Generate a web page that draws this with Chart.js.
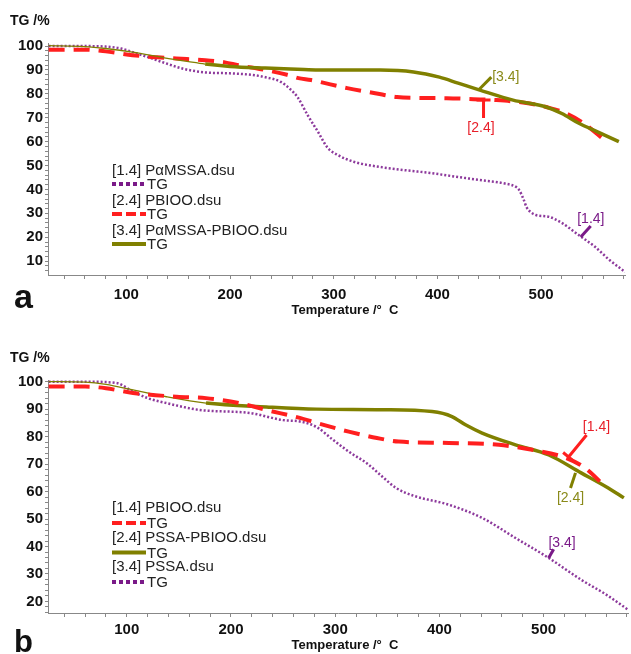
<!DOCTYPE html>
<html>
<head>
<meta charset="utf-8">
<title>TG curves</title>
<script src="https://cdn.jsdelivr.net/npm/chart.js@4.4.1/dist/chart.umd.min.js"></script>
<style>
  html, body { margin: 0; padding: 0; background: #fff; }
  #wrap { position: relative; width: 631px; height: 654px; overflow: hidden; }
  canvas { position: absolute; left: 0; }
</style>
</head>
<body>
<div id="wrap">
  <canvas id="chartA" width="631" height="327" style="top:0"></canvas>
  <canvas id="chartB" width="631" height="327" style="top:327px"></canvas>
</div>
<script>
// ===============================
// DATA  (temperature in C, TG in %)
// ===============================

// panel a : PαMSSA
const tempA_PaMSSA = [25, 40, 60, 80, 95, 106, 120, 138, 155, 176, 200, 220, 234, 249, 258, 265, 275, 285, 294, 304, 320, 345, 370, 393, 420, 440, 465, 476, 479, 483, 486, 490, 495, 508, 520, 536, 552, 566, 581]
const tgA_PaMSSA   = [100, 100, 100, 99.8, 99, 97.5, 95.5, 92.8, 90.5, 89, 88.6, 88, 87, 85, 82, 78.7, 71, 64, 57.5, 54.4, 51.5, 49.4, 48, 46.9, 45.2, 44, 42.5, 41, 39.7, 36, 32.6, 30.5, 29.3, 28.5, 26, 21, 16, 10.5, 5.5]

// panel a : PBIOO
const tempA_PBIOO = [25, 60, 80, 106, 130, 148, 176, 195, 208, 234, 255, 266, 278, 313, 340, 361, 385, 409, 435, 457, 489, 505, 521, 540, 559]
const tgA_PBIOO   = [98.5, 98.5, 97.8, 96.2, 95.3, 94.8, 94.1, 93.2, 92, 90, 88, 86.6, 85.8, 82.4, 80.3, 78.7, 78.3, 78.2, 77.8, 77.4, 76, 74.5, 72.4, 68, 61.5]

// panel a : PαMSSA-PBIOO
const tempA_Blend = [25, 60, 80, 106, 138, 160, 176, 200, 234, 265, 285, 345, 377, 402, 420, 441, 473, 505, 520, 536, 555, 575]
const tgA_Blend   = [100.2, 99.8, 99, 97.5, 95, 93.5, 92.5, 91.5, 90.8, 90.3, 90, 90, 89.2, 87, 84.5, 81.6, 77.4, 74.5, 71.8, 67.8, 64, 60]

// panel b : PBIOO
const tempB_PBIOO = [25, 60, 80, 106, 148, 176, 208, 234, 266, 282, 313, 340, 361, 409, 457, 489, 521, 540, 559]
const tgB_PBIOO   = [98.2, 98.2, 97.6, 95.9, 94.5, 94, 92.2, 89.7, 86.8, 85, 81.8, 79.5, 78.2, 77.7, 77, 75.2, 72.3, 68.5, 61.8]

// panel b : PSSA-PBIOO
const tempB_Blend = [25, 60, 80, 106, 138, 176, 234, 282, 345, 393, 412, 425, 441, 473, 505, 536, 562, 577]
const tgB_Blend   = [100, 99.8, 99, 97, 94.5, 92.2, 90.8, 90, 89.8, 89.1, 87.3, 84.3, 81.3, 77, 73.3, 66.8, 61.3, 57.7]

// panel b : PSSA
const tempB_PSSA = [25, 60, 90, 106, 120, 138, 170, 218, 250, 266, 282, 298, 315, 330, 345, 358, 375, 409, 441, 473, 505, 536, 560, 581]
const tgB_PSSA   = [100, 100, 99.5, 96.4, 94, 92.2, 89.7, 88.6, 86, 85.5, 83.5, 78.8, 74, 70.4, 65.5, 61.4, 58.5, 55.2, 50.4, 43.1, 35.8, 27.9, 22.5, 17]

// axis ranges and labels
const tempRange = [24.4, 581]
const tgRangeA = [4.2, 101.3]
const tgRangeB = [15.8, 100.6]
const yTitle = "TG /%"
const xTitle = "Temperature /\u00B0  C"

// callout labels: [text, colour key, line from (T, TG), line to (T, TG), text at (T, TG), cap at start?]
const calloutsA = [
  ["[3.4]", "olive", [439.7, 81.6], [452, 87], [466, 87], false],
  ["[2.4]", "red", [444.5, 77.4], [444.5, 69.9], [442, 65.6], true],
  ["[1.4]", "purple", [538.3, 20.1], [547.9, 24.7], [548, 27.6], false]
]
const calloutsB = [
  ["[1.4]", "red", [523.9, 72.6], [541.2, 80.6], [550.7, 83.5], true],
  ["[2.4]", "olive", [530.6, 66.8], [525.8, 61.3], [525.8, 57.6], false],
  ["[3.4]", "purple", [504.8, 35.8], [509.6, 39], [517.7, 41.3], false]
]

// ===============================
// STYLES
// ===============================
const FONT = "Arial, 'Liberation Sans', sans-serif"
const COLORS = {
  purple: "#8d3a9c",
  purpleDark: "#7a1a88",
  red: "#ff1f1f",
  olive: "#808000"
}

function pts(temps, vals) {
  return temps.map((t, i) => ({ x: t, y: vals[i] }))
}

function purpleSet(label, temps, vals, order) {
  return {
    label, order,
    data: pts(temps, vals),
    borderColor: COLORS.purple,
    borderWidth: 2.5,
    borderDash: [2, 2],
    legendColor: COLORS.purpleDark,
    legendDash: [4, 3],
    legendWidth: 4
  }
}

function redSet(label, temps, vals, order) {
  return {
    label, order,
    data: pts(temps, vals),
    borderColor: COLORS.red,
    borderWidth: 4,
    borderDash: [16, 9],
    legendColor: COLORS.red,
    legendDash: [10, 4],
    legendWidth: 4
  }
}

function oliveSet(label, temps, vals, order) {
  return {
    label, order,
    data: pts(temps, vals),
    borderColor: COLORS.olive,
    borderWidth: 3.5,
    // the instrument trace is thin at the start
    segment: { borderWidth: c => (c.p0.parsed.x < 170 ? 1.3 : 3.5) },
    legendColor: COLORS.olive,
    legendDash: [],
    legendWidth: 4
  }
}

// ===============================
// DECOR PLUGIN  (titles, legend, callouts)
// ===============================
const decorPlugin = {
  id: "decor",
  afterDraw(chart, args, opts) {
    const ctx = chart.ctx
    const xs = chart.scales.x
    const ys = chart.scales.y
    ctx.save()

    // axis titles
    ctx.fillStyle = "#111"
    ctx.textBaseline = "middle"
    ctx.textAlign = "left"
    ctx.font = "bold 14px " + FONT
    ctx.fillText(yTitle, 10, opts.yTitleY)
    ctx.font = "bold 13px " + FONT
    ctx.textAlign = "center"
    ctx.fillText(xTitle, 345, opts.xTitleY)

    // panel letter
    ctx.font = "bold " + opts.letterSize + "px " + FONT
    ctx.textAlign = "left"
    ctx.textBaseline = "alphabetic"
    ctx.fillText(opts.letter, 14, opts.letterY)

    // legend
    ctx.textBaseline = "middle"
    chart.data.datasets.forEach((ds, i) => {
      const y = opts.legendY + i * opts.legendStep
      ctx.fillStyle = "#222"
      ctx.font = "15px " + FONT
      ctx.fillText(ds.label, 112, y)
      ctx.beginPath()
      ctx.strokeStyle = ds.legendColor
      ctx.lineWidth = ds.legendWidth
      ctx.setLineDash(ds.legendDash)
      ctx.moveTo(112, y + opts.sampleGap)
      ctx.lineTo(146, y + opts.sampleGap)
      ctx.stroke()
      ctx.setLineDash([])
      ctx.fillText("TG", 147, y + opts.sampleGap + 1)
    })

    // callouts
    opts.callouts.forEach(([text, key, from, to, at, cap]) => {
      const col = key === "purple" ? COLORS.purpleDark : COLORS[key]
      const x1 = xs.getPixelForValue(from[0]), y1 = ys.getPixelForValue(from[1])
      const x2 = xs.getPixelForValue(to[0]), y2 = ys.getPixelForValue(to[1])
      ctx.strokeStyle = col
      ctx.lineWidth = 3
      ctx.beginPath()
      ctx.moveTo(x1, y1)
      ctx.lineTo(x2, y2)
      if (cap) {
        // small bar across the start of the leader
        const len = Math.hypot(x2 - x1, y2 - y1)
        const nx = -(y2 - y1) / len * 7, ny = (x2 - x1) / len * 7
        ctx.moveTo(x1 - nx, y1 - ny)
        ctx.lineTo(x1 + nx, y1 + ny)
      }
      ctx.stroke()
      ctx.fillStyle = key === "purple" ? COLORS.purpleDark : (key === "olive" ? "#8a8a1a" : "#e8202a")
      ctx.font = "14px " + FONT
      ctx.textAlign = "center"
      ctx.fillText(text, xs.getPixelForValue(at[0]), ys.getPixelForValue(at[1]))
      ctx.textAlign = "left"
    })

    ctx.restore()
  }
}

// ===============================
// CREATE CHART
// ===============================
function createChart(canvasId, datasets, yRange, layout) {
  const ctx = document.getElementById(canvasId).getContext("2d")
  return new Chart(ctx, {
    type: "line",
    data: { datasets },
    plugins: [decorPlugin],
    options: {
      responsive: false,
      animation: false,
      devicePixelRatio: 1,
      layout: { padding: { left: 0, right: 1, top: layout.top, bottom: 0 } },
      elements: {
        point: { radius: 0 },
        line: { cubicInterpolationMode: "monotone", fill: false, borderCapStyle: "butt" }
      },
      plugins: {
        legend: { display: false },
        tooltip: { enabled: false },
        decor: layout.decor
      },
      scales: {
        x: {
          type: "linear",
          min: tempRange[0],
          max: tempRange[1],
          afterFit: s => { s.height = layout.xHeight },
          grid: { drawOnChartArea: false, tickLength: 4, color: "#888" },
          border: { color: "#888" },
          ticks: {
            stepSize: 20,
            includeBounds: false,
            autoSkip: false,
            maxRotation: 0,
            padding: layout.xPad,
            color: "#111",
            font: { family: FONT, size: 15, weight: "bold" },
            callback: v => (v % 100 === 0 ? v : "")
          }
        },
        y: {
          min: yRange[0],
          max: yRange[1],
          afterFit: s => { s.width = 48 },
          grid: { drawOnChartArea: false, tickLength: 3, color: "#888" },
          border: { color: "#888" },
          ticks: {
            stepSize: 2,
            includeBounds: false,
            autoSkip: false,
            padding: 2,
            color: "#111",
            font: { family: FONT, size: 15, weight: "bold" },
            callback: v => (v % 10 === 0 && v >= 10 ? v : "")
          }
        }
      }
    }
  })
}

// ===============================
// INIT
// ===============================
createChart("chartA", [
  purpleSet("[1.4] P\u03B1MSSA.dsu", tempA_PaMSSA, tgA_PaMSSA, 2),
  redSet("[2.4] PBIOO.dsu", tempA_PBIOO, tgA_PBIOO, 1),
  oliveSet("[3.4] P\u03B1MSSA-PBIOO.dsu", tempA_Blend, tgA_Blend, 0)
], tgRangeA, {
  top: 43,
  xHeight: 52,
  xPad: 7,
  decor: {
    yTitleY: 21, xTitleY: 310, letter: "a", letterY: 308, letterSize: 34,
    legendY: 171, legendStep: 30, sampleGap: 13, callouts: calloutsA
  }
})

createChart("chartB", [
  redSet("[1.4] PBIOO.dsu", tempB_PBIOO, tgB_PBIOO, 0),
  oliveSet("[2.4] PSSA-PBIOO.dsu", tempB_Blend, tgB_Blend, 1),
  purpleSet("[3.4] PSSA.dsu", tempB_PSSA, tgB_PSSA, 2)
], tgRangeB, {
  top: 53,
  xHeight: 41,
  xPad: 4,
  decor: {
    yTitleY: 31, xTitleY: 318, letter: "b", letterY: 325, letterSize: 31,
    legendY: 181, legendStep: 29.5, sampleGap: 15, callouts: calloutsB
  }
})
</script>
</body>
</html>
